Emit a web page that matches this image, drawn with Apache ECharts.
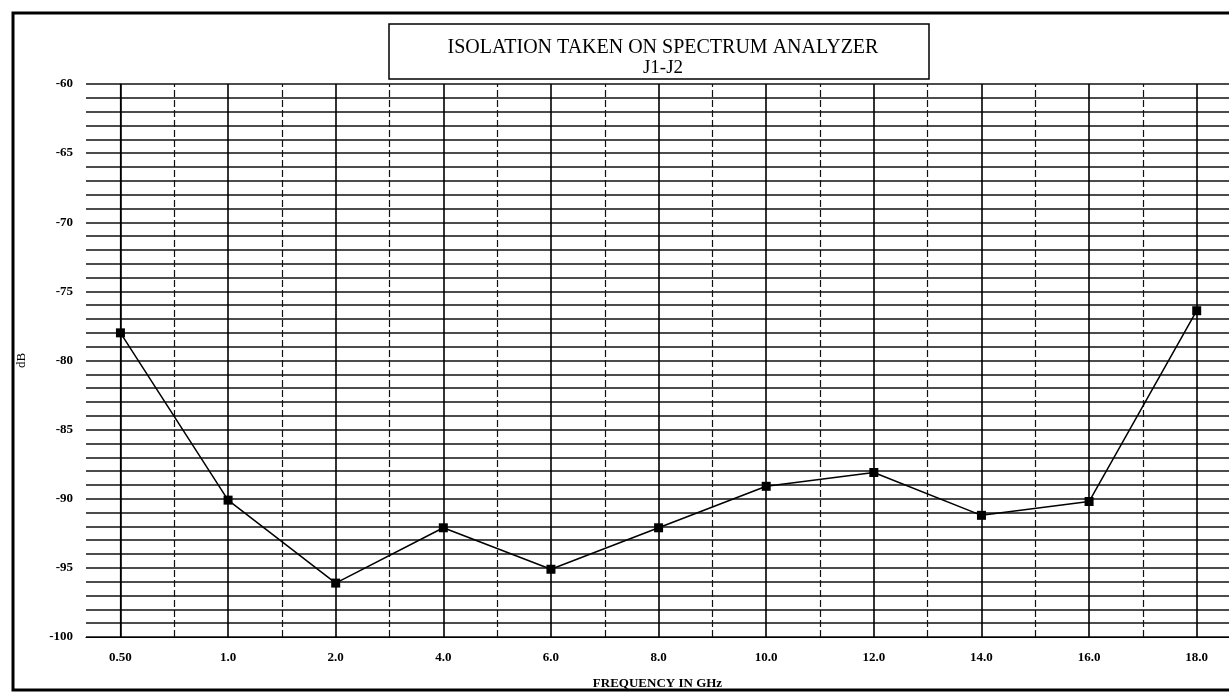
<!DOCTYPE html>
<html>
<head>
<meta charset="utf-8">
<script src="https://cdn.jsdelivr.net/npm/echarts@6/dist/echarts.min.js"></script>
<style>html,body{margin:0;padding:0;background:#fff;}#c{width:1229px;height:695px;}</style>
</head>
<body>
<div id="c"></div>
<script>
var categories = ['0.50','1.0','2.0','4.0','6.0','8.0','10.0','12.0','14.0','16.0','18.0'];
var isolation = [-78.0,-90.1,-96.1,-92.1,-95.1,-92.1,-89.1,-88.1,-91.2,-90.2,-76.4];
var titleLines = ['ISOLATION TAKEN ON SPECTRUM ANALYZER','J1-J2'];
var xName = 'FREQUENCY IN GHz';
var yName = 'dB';

var FONT = '"Liberation Serif", "DejaVu Serif", serif';
var points = isolation.map(function(v,i){return [i,v];});
var vLines = [];
for (var i = 0; i < categories.length; i++) {
  vLines.push({xAxis: i, lineStyle:{type:'solid', width:1.6, color:'#000'}});
  if (i < categories.length - 1) vLines.push({xAxis: i + 0.5, lineStyle:{type:[7,3], width:1.2, color:'#111'}});
}

var chart = echarts.init(document.getElementById('c'), null, {renderer:'canvas'});
chart.setOption({
  animation:false,
  backgroundColor:'#fff',
  title:[
    {text:titleLines[0], left:658, top:33, textAlign:'center',
     textStyle:{fontFamily:FONT, fontSize:20, fontWeight:'normal', color:'#000'}},
    {text:titleLines[1], left:658, top:54, textAlign:'center',
     textStyle:{fontFamily:FONT, fontSize:19, fontWeight:'normal', color:'#000'}}
  ],
  graphic:[
    {type:'rect', shape:{x:13, y:13, width:1240, height:677}, style:{fill:null, stroke:'#000', lineWidth:3}, silent:true},
    {type:'rect', shape:{x:389, y:24, width:540, height:55}, style:{fill:null, stroke:'#000', lineWidth:1.5}, silent:true}
  ],
  grid:{left:86, top:84, right:0, bottom:55, containLabel:false},
  xAxis:{
    type:'value', min:-0.32, max:10.3,
    name:xName, nameLocation:'middle', nameGap:40,
    nameTextStyle:{fontFamily:FONT, fontSize:13, fontWeight:'bold', color:'#000'},
    axisLine:{show:true, lineStyle:{color:'#000', width:1.2}},
    axisTick:{show:false},
    splitLine:{show:false},
    axisLabel:{
      customValues:[0,1,2,3,4,5,6,7,8,9,10],
      formatter:function(v){var k=Math.round(v);return categories[k]!==undefined?categories[k]:'';},
      fontFamily:FONT, fontSize:13, fontWeight:'bold', color:'#000', margin:14
    }
  },
  yAxis:{
    type:'value', min:-100, max:-60, interval:1,
    name:yName, nameLocation:'middle', nameGap:58, nameRotate:90,
    nameTextStyle:{fontFamily:FONT, fontSize:13, color:'#000'},
    axisLine:{show:true, lineStyle:{color:'#000', width:1.2}},
    axisTick:{show:false},
    splitLine:{show:true, lineStyle:{color:'#111', width:1.5}},
    axisLabel:{
      formatter:function(v){return (Math.round(v)%5===0)?String(v):'';},
      fontFamily:FONT, fontSize:13, fontWeight:'bold', color:'#000', margin:13
    }
  },
  series:[{
    type:'line', data:points,
    symbol:'rect', symbolSize:9,
    itemStyle:{color:'#000'},
    lineStyle:{color:'#000', width:1.5},
    z:5,
    markLine:{silent:true, symbol:['none','none'], label:{show:false}, z:1, data:vLines}
  }]
});
</script>
</body>
</html>
